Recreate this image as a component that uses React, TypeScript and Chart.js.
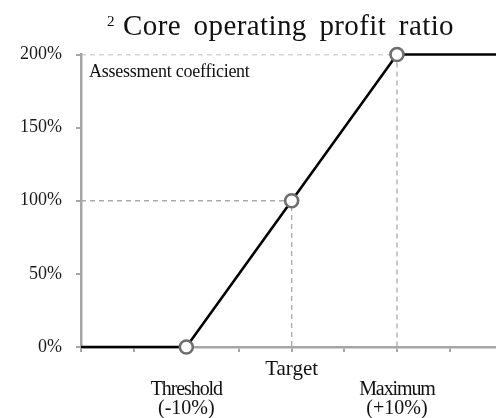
import React, { useEffect, useRef } from "react";
import { Chart, registerables } from "chart.js";

Chart.register(...registerables);

// Data
const curveX = [0, 2, 4, 6, 7.88];
const curveY = [0, 0, 100, 200, 200];
const markerRadius = [0, 6.5, 6.5, 6.5, 0];
const refMaxX = [0, 6, 6];
const refMaxY = [200, 200, 0];
const refTargetX = [0, 4, 4];
const refTargetY = [100, 100, 0];
const yTicks = [0, 50, 100, 150, 200];
const titleSup = "2";
const titleText = "Core operating profit ratio";
const yAxisNote = "Assessment coefficient";
const pointLabels = [
  { x: 2, lines: ["Threshold", "(-10%)"], row: 1 },
  { x: 4, lines: ["Target"], row: 0 },
  { x: 6, lines: ["Maximum", "(+10%)"], row: 1 },
];

const FONT = "'Liberation Serif', 'Times New Roman', serif";

const textPlugin = {
  id: "textPlugin",
  afterDraw(chart: any) {
    const ctx = chart.ctx;
    const xs = chart.scales.x;
    ctx.save();
    ctx.fillStyle = "#111";
    ctx.textBaseline = "alphabetic";
    // title
    ctx.textAlign = "left";
    ctx.font = `15px ${FONT}`;
    ctx.fillText(titleSup, 107, 26);
    ctx.font = `29px ${FONT}`;
    ctx.wordSpacing = "5px";
    ctx.letterSpacing = "0.4px";
    ctx.fillText(titleText, 123, 35);
    ctx.wordSpacing = "0px";
    ctx.letterSpacing = "0px";
    // y-axis note
    ctx.font = `18px ${FONT}`;
    ctx.letterSpacing = "-0.25px";
    ctx.fillText(yAxisNote, 89, 77);
    ctx.letterSpacing = "0px";
    // x labels
    ctx.textAlign = "center";
    for (const p of pointLabels) {
      const px = xs.getPixelForValue(p.x);
      const base = p.row === 0 ? 375 : 395;
      p.lines.forEach((l, i) => {
        if (p.row === 0) {
          ctx.font = `21px ${FONT}`;
          ctx.letterSpacing = "0px";
        } else if (i === 0) {
          ctx.font = `20px ${FONT}`;
          ctx.letterSpacing = "-1.1px";
        } else {
          ctx.font = `20px ${FONT}`;
          ctx.letterSpacing = "0px";
        }
        ctx.fillText(l, px, base + i * 18.5);
      });
    }
    ctx.restore();
  },
};

export default function App() {
  const ref = useRef<HTMLCanvasElement>(null);
  useEffect(() => {
    document.body.style.margin = "0";
    const chart = new Chart(ref.current!, {
      type: "line",
      data: {
        datasets: [
          {
            data: curveX.map((x, i) => ({ x, y: curveY[i] })),
            borderColor: "#000",
            borderWidth: 2.6,
            pointRadius: markerRadius,
            pointBackgroundColor: "#fff",
            pointBorderColor: "#6e6e6e",
            pointBorderWidth: 2.6,
            clip: false as any,
            order: 0,
          },
          {
            data: refMaxX.map((x, i) => ({ x, y: refMaxY[i] })),
            borderColor: "#aaaaaa",
            borderWidth: 1.3,
            borderDash: [5, 4],
            pointRadius: 0,
            order: 1,
          },
          {
            data: refTargetX.map((x, i) => ({ x, y: refTargetY[i] })),
            borderColor: "#aaaaaa",
            borderWidth: 1.3,
            borderDash: [5, 4],
            pointRadius: 0,
            order: 1,
          },
        ],
      },
      options: {
        animation: false,
        responsive: false,
        layout: { padding: { top: 54.5, right: 0, left: 0, bottom: 0 } },
        plugins: { legend: { display: false }, tooltip: { enabled: false }, title: { display: false } },
        scales: {
          x: {
            type: "linear",
            min: 0,
            max: curveX[curveX.length - 1],
            ticks: { stepSize: 1, display: false, includeBounds: false },
            grid: { drawOnChartArea: false, drawTicks: true, tickLength: 5, color: "#a6a6a6", lineWidth: 2 },
            border: { color: "#a6a6a6", width: 2.5 },
            afterFit(s: any) {
              s.height = 71;
            },
          },
          y: {
            min: 0,
            max: 200,
            afterBuildTicks(s: any) {
              s.ticks = yTicks.map((v) => ({ value: v }));
            },
            ticks: {
              callback: (v: any) => v + "%",
              font: { family: FONT, size: 18 },
              color: "#1a1a1a",
              padding: 14,
            },
            grid: { drawOnChartArea: false, drawTicks: true, tickLength: 5, color: "#a6a6a6", lineWidth: 2 },
            border: { color: "#a6a6a6", width: 2.5 },
            afterFit(s: any) {
              s.width = 81;
            },
          },
        },
      },
      plugins: [textPlugin],
    });
    return () => chart.destroy();
  }, []);
  return (
    <div style={{ width: 496, height: 418, background: "#fff" }}>
      <canvas ref={ref} width={496} height={418} style={{ display: "block" }} />
    </div>
  );
}
